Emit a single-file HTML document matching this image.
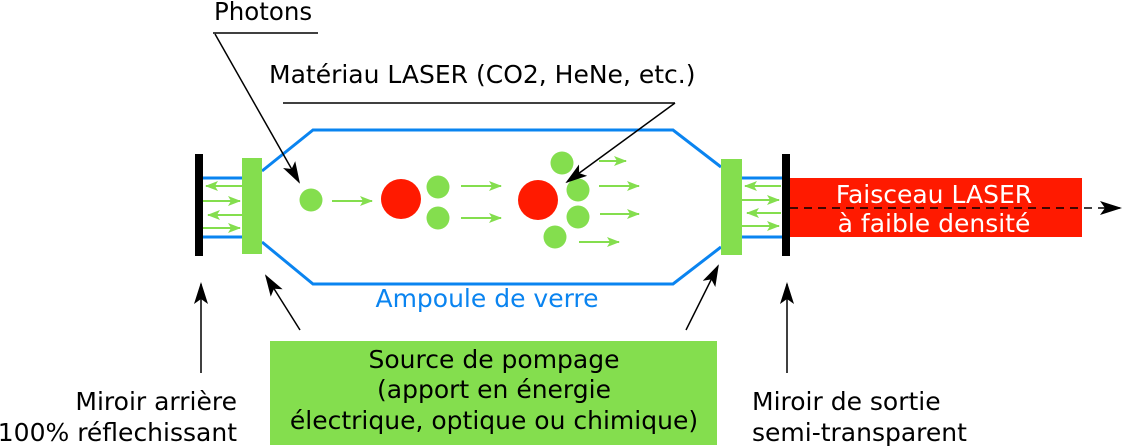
<!DOCTYPE html>
<html><head><meta charset="utf-8"><style>
html,body{margin:0;padding:0;background:#fff;}
svg{display:block;font-family:"DejaVu Sans","Liberation Sans",sans-serif;}
</style></head><body>
<svg width="1127" height="447" viewBox="0 0 1127 447" xmlns="http://www.w3.org/2000/svg">
<defs>
<marker id="bkL" markerWidth="22" markerHeight="14" refX="20" refY="7" orient="auto" markerUnits="userSpaceOnUse">
<path d="M0,0 L22,7 L0,14 L5,7 Z" fill="#000"/></marker>
<marker id="gr" markerWidth="13" markerHeight="10" refX="12" refY="5" orient="auto" markerUnits="userSpaceOnUse">
<path d="M0,0 L13,5 L0,10 L3,5 Z" fill="#84de4e"/></marker>
</defs>
<g fill="none" stroke="#0a84f0" stroke-width="3">
<polyline points="262,171 313,130 673,130 721,167"/>
<polyline points="262,242 313,284 673,284 721,247"/>
<line x1="203" y1="178" x2="242" y2="178"/><line x1="203" y1="237" x2="242" y2="237"/>
<line x1="742" y1="178" x2="782" y2="178"/><line x1="742" y1="237" x2="782" y2="237"/>
</g>
<rect x="790" y="178" width="292" height="59" fill="#ff1a00"/>
<text x="934" y="203" font-size="25" fill="#fff" text-anchor="middle">Faisceau LASER</text>
<text x="934" y="232" font-size="25" fill="#fff" text-anchor="middle">à faible densité</text>
<line x1="790" y1="208" x2="1120" y2="208" stroke="#000" stroke-width="1.5" stroke-dasharray="8,6" marker-end="url(#bkL)"/>
<rect x="195" y="154" width="8" height="102" fill="#000"/>
<rect x="782" y="154" width="8" height="102" fill="#000"/>
<rect x="242" y="158" width="20" height="96" fill="#84de4e"/>
<rect x="721" y="159" width="21" height="96" fill="#84de4e"/>
<g stroke="#84de4e" stroke-width="2" marker-end="url(#gr)">
<line x1="242" y1="186" x2="206" y2="186"/><line x1="203" y1="201" x2="240" y2="201"/>
<line x1="242" y1="215" x2="208" y2="215"/><line x1="203" y1="228" x2="240" y2="228"/>
<line x1="781" y1="186" x2="745" y2="186"/><line x1="742" y1="200" x2="779" y2="200"/>
<line x1="781" y1="213" x2="747" y2="213"/><line x1="742" y1="226" x2="779" y2="226"/>
<line x1="332" y1="201" x2="372" y2="201"/>
<line x1="461" y1="186" x2="501" y2="186"/><line x1="461" y1="218" x2="501" y2="218"/>
<line x1="599" y1="161" x2="626" y2="161"/>
<line x1="599" y1="186" x2="639" y2="186"/><line x1="600" y1="214" x2="639" y2="214"/>
<line x1="579" y1="242" x2="619" y2="242"/>
</g>
<g fill="#84de4e">
<circle cx="311" cy="200" r="11.5"/>
<circle cx="438" cy="187" r="11.5"/><circle cx="438" cy="218" r="11.5"/>
<circle cx="562" cy="163" r="11.5"/><circle cx="578" cy="190" r="11.5"/>
<circle cx="578" cy="217" r="11.5"/><circle cx="555" cy="237" r="11.5"/>
</g>
<g fill="#ff1a00"><circle cx="401" cy="199" r="20"/><circle cx="538" cy="200" r="20"/></g>
<text x="214" y="20" font-size="24.5" fill="#000">Photons</text>
<g stroke="#000" stroke-width="1.5" fill="none">
<line x1="213" y1="33" x2="318" y2="33"/>
<line x1="215" y1="34" x2="299" y2="182" marker-end="url(#bkL)"/>
<line x1="283" y1="103" x2="675" y2="103"/>
<line x1="675" y1="103" x2="567" y2="182" marker-end="url(#bkL)"/>
<line x1="201" y1="373" x2="201" y2="284" marker-end="url(#bkL)"/>
<line x1="787" y1="373" x2="787" y2="284" marker-end="url(#bkL)"/>
<line x1="300" y1="330" x2="266" y2="276" marker-end="url(#bkL)"/>
<line x1="686" y1="330" x2="718" y2="266" marker-end="url(#bkL)"/>
</g>
<text x="269" y="83" font-size="25" fill="#000">Matériau LASER (CO2, HeNe, etc.)</text>
<text x="487" y="307" font-size="25" fill="#0a84f0" text-anchor="middle">Ampoule de verre</text>
<rect x="270" y="341" width="447" height="104" fill="#84de4e"/>
<g font-size="25" fill="#000" text-anchor="middle">
<text x="494" y="368">Source de pompage</text>
<text x="494" y="398">(apport en énergie</text>
<text x="494" y="429">électrique, optique ou chimique)</text>
</g>
<g font-size="25" fill="#000">
<text x="237" y="410" text-anchor="end">Miroir arrière</text>
<text x="237" y="441" text-anchor="end">100% réflechissant</text>
<text x="752" y="410">Miroir de sortie</text>
<text x="752" y="441">semi-transparent</text>
</g>
</svg>
</body></html>
